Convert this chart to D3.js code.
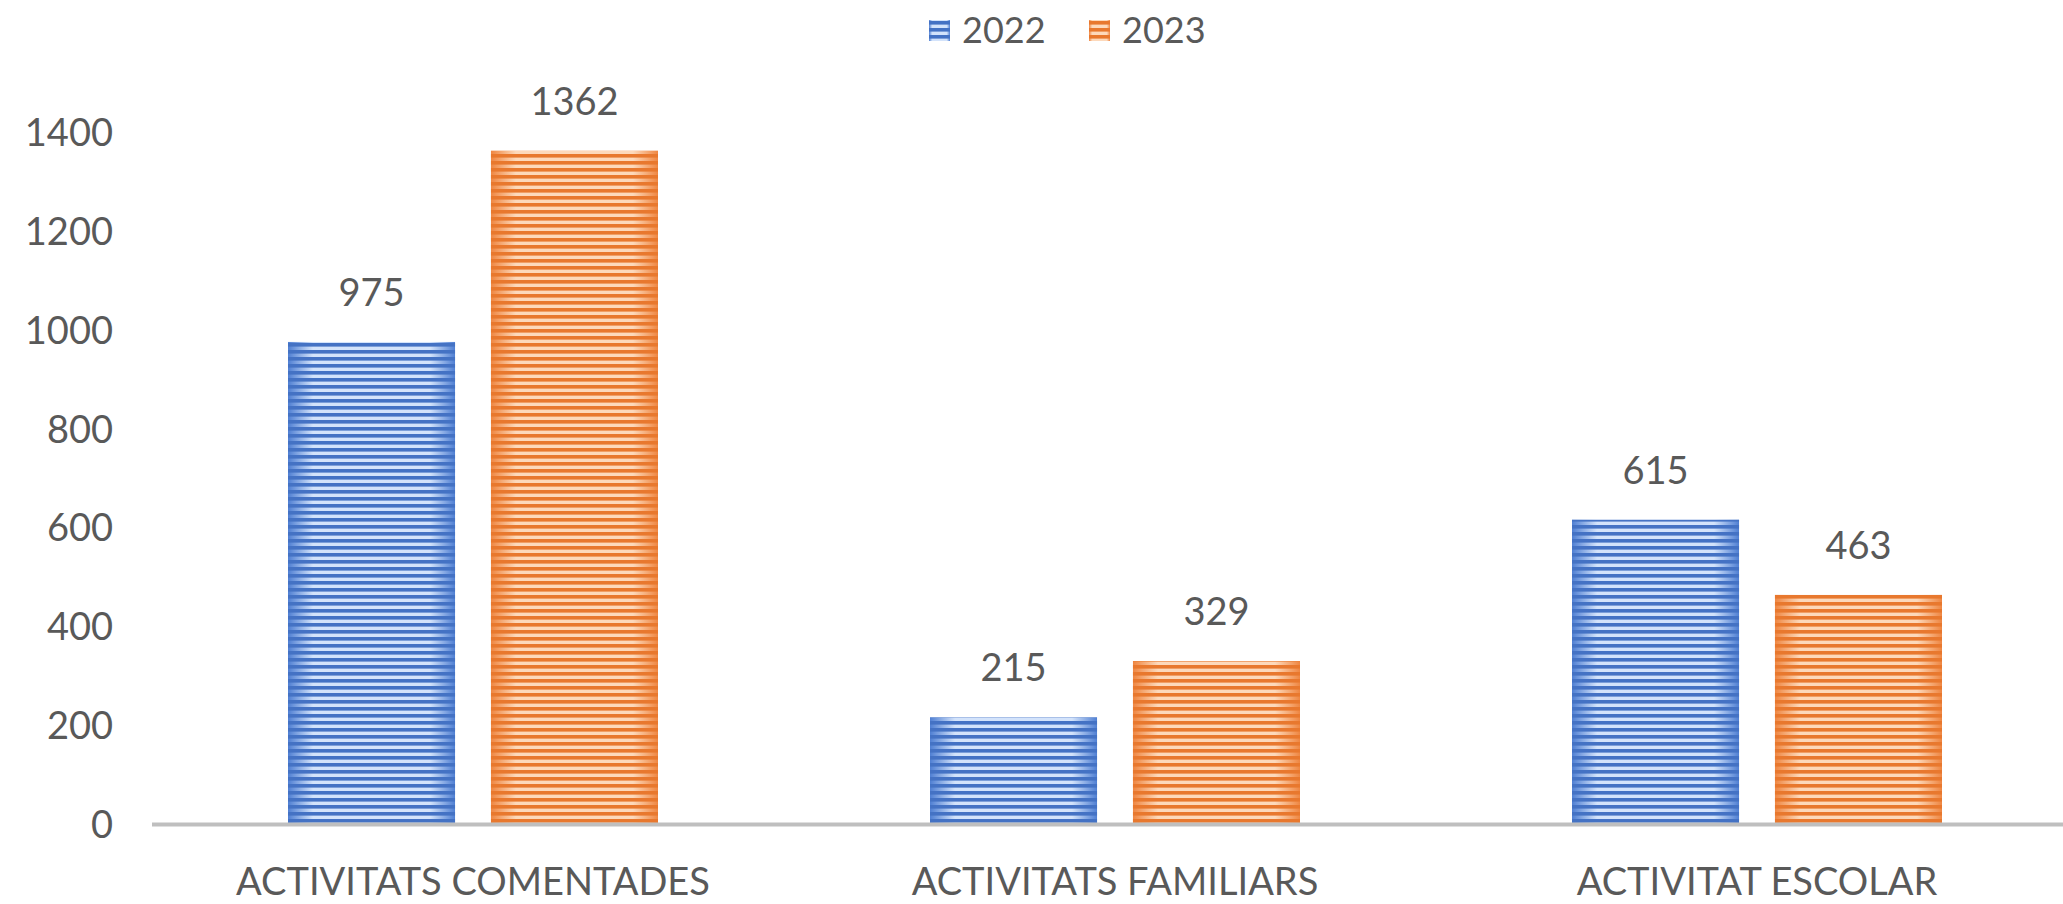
<!DOCTYPE html>
<html>
<head>
<meta charset="utf-8">
<script src="https://cdnjs.cloudflare.com/ajax/libs/d3/7.8.5/d3.min.js"></script>
<style>
  html, body { margin: 0; padding: 0; background: #ffffff; }
  svg { display: block; }
  text { font-family: Lato, "Open Sans", sans-serif; fill: #595959; }
</style>
</head>
<body>
<svg id="chart" width="2063" height="904"></svg>
<script>
const categories = ["ACTIVITATS COMENTADES", "ACTIVITATS FAMILIARS", "ACTIVITAT ESCOLAR"];
const seriesNames = ["2022", "2023"];
const values2022 = [975, 215, 615];
const values2023 = [1362, 329, 463];
const yTicks = [0, 200, 400, 600, 800, 1000, 1200, 1400];

const seriesValues = [values2022, values2023];
const palette = {
  "2022": { edge: "#4f7fd3", mid: "#d3e3fb", stripe: "#4472c4" },
  "2023": { edge: "#ef8641", mid: "#fdd9bb", stripe: "#e8782e" }
};

const svg = d3.select("#chart");
const W = 2063, H = 904;
const y0 = 823.6, yTop = 132;

const x = d3.scaleBand().domain(categories).range([152, 2078]).paddingInner(0).paddingOuter(0);
const groupW = 370;
const xs = d3.scaleBand().domain(seriesNames).range([0, groupW]).paddingInner(0.177).paddingOuter(0);
const y = d3.scaleLinear().domain([0, 1400]).range([y0, yTop]);

const defs = svg.append("defs");
seriesNames.forEach(s => {
  const c = palette[s];
  const g = defs.append("linearGradient").attr("id", "grad" + s)
    .attr("x1", "0%").attr("x2", "100%").attr("y1", "0%").attr("y2", "0%");
  g.append("stop").attr("offset", "0%").attr("stop-color", c.edge);
  g.append("stop").attr("offset", "15%").attr("stop-color", c.mid);
  g.append("stop").attr("offset", "50%").attr("stop-color", c.mid);
  g.append("stop").attr("offset", "85%").attr("stop-color", c.mid);
  g.append("stop").attr("offset", "100%").attr("stop-color", c.edge);
  const p = defs.append("pattern").attr("id", "stripe" + s)
    .attr("patternUnits", "userSpaceOnUse")
    .attr("width", 10).attr("height", 7);
  p.append("rect").attr("x", 0).attr("y", 0).attr("width", 10).attr("height", 3.6)
    .attr("fill", c.stripe);
});

const data = [];
categories.forEach((cat, i) => {
  seriesNames.forEach((s, j) => {
    data.push({ cat, s, v: seriesValues[j][i] });
  });
});

const bx = d => x(d.cat) + x.bandwidth() / 2 - groupW / 2 + xs(d.s);

const bars = svg.append("g");
bars.selectAll("rect.base").data(data).enter().append("rect")
  .attr("class", "base")
  .attr("x", bx)
  .attr("y", d => y(d.v))
  .attr("width", xs.bandwidth())
  .attr("height", d => y(0) - y(d.v))
  .attr("fill", d => "url(#grad" + d.s + ")");
bars.selectAll("rect.stripe").data(data).enter().append("rect")
  .attr("class", "stripe")
  .attr("x", bx)
  .attr("y", d => y(d.v))
  .attr("width", xs.bandwidth())
  .attr("height", d => y(0) - y(d.v))
  .attr("fill", d => "url(#stripe" + d.s + ")");

svg.append("g").selectAll("text").data(data).enter().append("text")
  .attr("x", d => bx(d) + xs.bandwidth() / 2)
  .attr("y", d => y(d.v) - 36)
  .attr("text-anchor", "middle")
  .attr("font-size", 38)
  .text(d => d.v);

const yAxis = d3.axisLeft(y).tickValues(yTicks).tickFormat(d3.format("d")).tickSize(0).tickPadding(0);
const yg = svg.append("g").attr("transform", "translate(113,0)").call(yAxis);
yg.select(".domain").remove();
yg.selectAll("text")
  .attr("font-size", 38)
  .attr("font-family", "Lato, sans-serif")
  .attr("fill", "#595959")
  .attr("dy", "0.36em");

svg.append("line")
  .attr("x1", 152).attr("x2", W)
  .attr("y1", y0 + 1).attr("y2", y0 + 1)
  .attr("stroke", "#bfbfbf").attr("stroke-width", 4);

const xAxis = d3.axisBottom(x).tickSize(0).tickPadding(0);
const xg = svg.append("g").call(xAxis);
xg.select(".domain").remove();
xg.selectAll("text")
  .attr("y", 895)
  .attr("dy", 0)
  .attr("font-size", 38)
  .attr("font-family", "Lato, sans-serif")
  .attr("fill", "#595959");

const legend = svg.append("g");
seriesNames.forEach((s, i) => {
  const lx = 929 + i * 160;
  legend.append("rect").attr("x", lx).attr("y", 20).attr("width", 21).attr("height", 21)
    .attr("fill", "url(#grad" + s + ")");
  legend.append("rect").attr("x", lx).attr("y", 20).attr("width", 21).attr("height", 21)
    .attr("fill", "url(#stripe" + s + ")");
  legend.append("text").attr("x", lx + 33).attr("y", 43)
    .attr("font-size", 36).text(s);
});
</script>
</body>
</html>
